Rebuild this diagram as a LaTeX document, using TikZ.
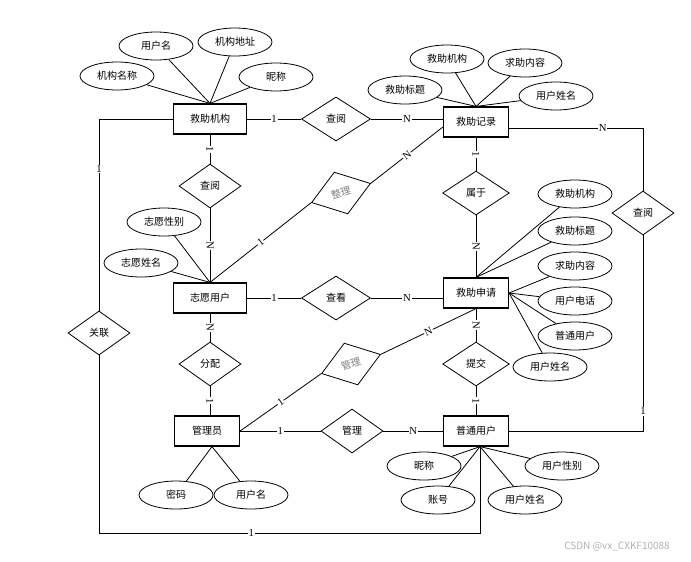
\documentclass[tikz,border=0pt]{standalone}
\usepackage{fontspec}
\usepackage{tikz}
\usetikzlibrary{positioning, shapes, calc}
\setmainfont{Liberation Serif}
\newfontfamily\cjk{Noto Sans CJK SC}

\begin{document}
\begin{tikzpicture}[x=0.75pt, y=-0.75pt, line width=0.6pt,
	entity/.style={draw, line width=0.9pt, rectangle, minimum width=48.75pt, minimum height=22.5pt, inner sep=0pt, font=\cjk\fontsize{7.5}{9}\selectfont},
	rel/.style={draw, diamond, aspect=1.4, minimum width=46.5pt, minimum height=33pt, inner sep=0pt, font=\cjk\fontsize{7.5}{9}\selectfont},
	attr/.style={draw, ellipse, minimum width=55.5pt, minimum height=21pt, inner sep=0pt, font=\cjk\fontsize{7.5}{9}\selectfont},
	lbl/.style={fill=white, inner sep=0.6pt, font=\fontsize{8}{9}\selectfont}]
		\useasboundingbox (0,0) rectangle (691,561);
		%% entities
		\node[entity, minimum width=54.75pt] (jzjg) at (210,119) {救助机构};
		\node[entity] (jzjl) at (476,122) {救助记录};
		\node[entity, minimum width=54.75pt] (zyyh) at (210,298) {志愿用户};
		\node[entity] (jzsq) at (476,293) {救助申请};
		\node[entity] (gly) at (207,431) {管理员};
		\node[entity] (ptyh) at (476,431) {普通用户};
		%% relations
		\node[rel, minimum width=51.75pt] (cy1) at (336,119) {查阅};
		\node[rel] (cy2) at (210,186) {查阅};
		\node[rel, rotate=18, text=gray] (zl) at (341,193) {整理};
		\node[rel, minimum width=50pt] (sy) at (476,193) {属于};
		\node[rel] (cy3) at (643,213) {查阅};
		\node[rel, minimum width=51.75pt] (ck) at (336,298) {查看};
		\node[rel] (glian) at (99,333) {关联};
		\node[rel] (fp) at (210,364) {分配};
		\node[rel, rotate=18, text=gray] (gl1) at (351,364) {管理};
		\node[rel] (gl2) at (352,431) {管理};
		\node[rel, minimum width=50pt] (tj) at (476,364) {提交};
		%% attributes
		\node[attr] (a1) at (117,76) {机构名称};
		\node[attr] (a2) at (156,46) {用户名};
		\node[attr] (a3) at (235,42) {机构地址};
		\node[attr] (a4) at (276,77) {昵称};
		\node[attr] (b1) at (405,90) {救助标题};
		\node[attr] (b2) at (447,59) {救助机构};
		\node[attr] (b3) at (525,63) {求助内容};
		\node[attr] (b4) at (556,96) {用户姓名};
		\node[attr] (c1) at (575,194) {救助机构};
		\node[attr] (c2) at (575,231) {救助标题};
		\node[attr] (c3) at (575,266) {求助内容};
		\node[attr] (c4) at (575,301) {用户电话};
		\node[attr] (c5) at (575,336) {普通用户};
		\node[attr] (c6) at (550,367) {用户姓名};
		\node[attr] (d1) at (164,222) {志愿性别};
		\node[attr] (d2) at (141,263) {志愿姓名};
		\node[attr] (e1) at (176,495) {密码};
		\node[attr] (e2) at (251,495) {用户名};
		\node[attr] (f1) at (424,466) {昵称};
		\node[attr] (f2) at (438,500) {账号};
		\node[attr] (f3) at (525,500) {用户姓名};
		\node[attr] (f4) at (562,466) {用户性别};
		\foreach \a in {a1,a2,a3,a4} \draw (\a) -- (jzjg.north);
		\foreach \a in {b1,b2,b3,b4} \draw (\a) -- (jzjl.north);
		\foreach \a in {c1,c2} \draw (\a) -- (jzsq.north);
		\foreach \a in {c3,c4,c5,c6} \draw (\a) -- (jzsq.east);
		\foreach \a in {d1,d2} \draw (\a) -- (zyyh.north);
		\foreach \a in {e1,e2} \draw (\a) -- ([xshift=3.75pt]gly.south);
		\foreach \a in {f1,f2,f3,f4} \draw (\a) -- ([xshift=3pt]ptyh.south);
		%% connectors
		\draw (jzjg.east) -- node[lbl]{1} (cy1.west);
		\draw (cy1.east) -- node[lbl]{N} (cy1.east -| jzjl.west);
		\draw (jzjg.south) -- node[lbl, sloped]{1} (cy2.north);
		\draw (cy2.south) -- node[lbl, sloped]{N} (zyyh.north);
		\draw (zyyh.north) -- node[lbl, sloped]{1} (zl.west);
		\draw (zl.east) -- node[lbl, sloped]{N} ([yshift=-3.75pt]jzjl.west);
		\draw (jzjl.south) -- node[lbl, sloped]{1} (sy.north);
		\draw (sy.south) -- node[lbl, sloped]{N} (jzsq.north);
		\draw ([yshift=-4.5pt]jzjl.east) -| node[lbl, pos=0.35]{N} (cy3.north);
		\draw (cy3.south) |- node[lbl, pos=0.45]{1} (ptyh.east);
		\draw (zyyh.east) -- node[lbl]{1} (ck.west);
		\draw (ck.east) -- node[lbl]{N} (ck.east -| jzsq.west);
		\draw (zyyh.south) -- node[lbl, sloped]{N} (fp.north);
		\draw (fp.south) -- node[lbl, sloped]{1} (fp.south |- gly.north);
		\draw (gly.east) -- node[lbl, sloped]{1} (gl1.west);
		\draw (gl1.east) -- node[lbl, sloped]{N} (jzsq.south);
		\draw (gly.east) -- node[lbl]{1} (gl2.west);
		\draw (gl2.east) -- node[lbl]{N} (ptyh.west);
		\draw (jzsq.south) -- node[lbl, sloped]{N} (tj.north);
		\draw (tj.south) -- node[lbl, sloped]{1} (ptyh.north);
		\draw (jzjg.west) -| node[lbl, pos=0.63]{1} (glian.north);
		\coordinate (bl) at (99,533);
		\draw (glian.south) -- (bl) -| node[lbl, pos=0.2]{1} ([xshift=3pt]ptyh.south);
		\node[text=gray!60, font=\cjk\fontsize{7.5}{9}\selectfont] (wm) at (617,547) {CSDN @vx\_CXKF10088};
\end{tikzpicture}
\end{document}
